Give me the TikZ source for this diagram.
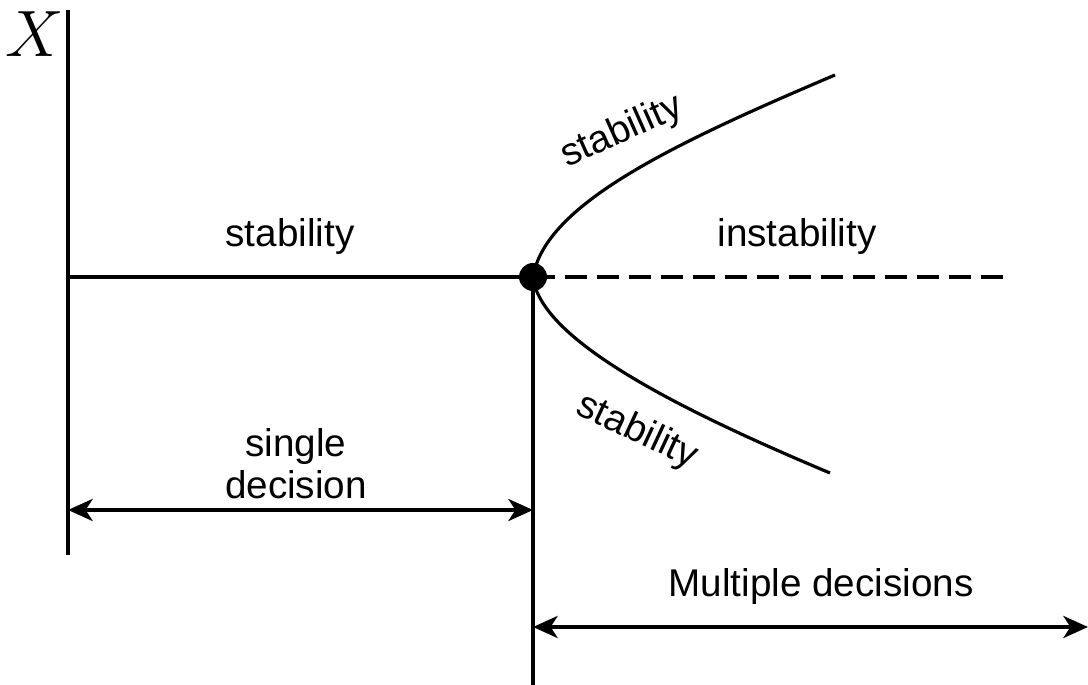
\documentclass[tikz,border=0pt]{standalone}
\usepackage{fontspec}
\setmainfont{Liberation Sans}
\usetikzlibrary{arrows.meta}
\begin{document}
\begin{tikzpicture}[x=0.02cm,y=-0.02cm,line width=2.3pt,
  lbl/.style={font=\fontsize{22}{26}\selectfont,inner sep=0pt,align=center},
  dimarrow/.style={{Stealth[length=14pt,width=12.5pt,inset=4pt]}-{Stealth[length=14pt,width=12.5pt,inset=4pt]}}]
  \useasboundingbox (0,0) rectangle (1088,685);
  \coordinate (T) at (68,10); \coordinate (O) at (68,555);
  \coordinate (L) at (68,277); \coordinate (B) at (533,277);
  \coordinate (R) at (1012,277); \coordinate (D) at (533,685);
  \coordinate (U) at (835,75); \coordinate (W) at (830,473);
  \coordinate (A1) at (68,510); \coordinate (A2) at (533,510);
  \coordinate (M1) at (533,627); \coordinate (M2) at (1088,627);
  \draw (T)--(O);
  \draw (L)--(B)--(D);
  \draw[dash pattern=on 12.5pt off 5.7pt] (B)--(R);
  \draw[line width=1.8pt] (B) .. controls (545,205) and (670,145) .. (U);
  \draw[line width=1.8pt] (B) .. controls (540,340) and (680,410) .. (W);
  \fill (B) circle (14);
  \draw[dimarrow] (A1)--(A2);
  \draw[dimarrow] (M1)--(M2);
  \node[scale=1.5,inner sep=0pt] (xlbl) at (35,34) {\Huge$X$};
  \node[lbl] (stab) at (290,237) {stability};
  \node[lbl] (instab) at (797,237) {instability};
  \node[lbl,rotate=24] (upper) at (622,132) {stability};
  \node[lbl,rotate=-25] (lower) at (637,432) {stability};
  \node[lbl] (single) at (296,464) {single\\[-2pt]decision};
  \node[lbl] (multi) at (821,587) {Multiple decisions};
\end{tikzpicture}
\end{document}
